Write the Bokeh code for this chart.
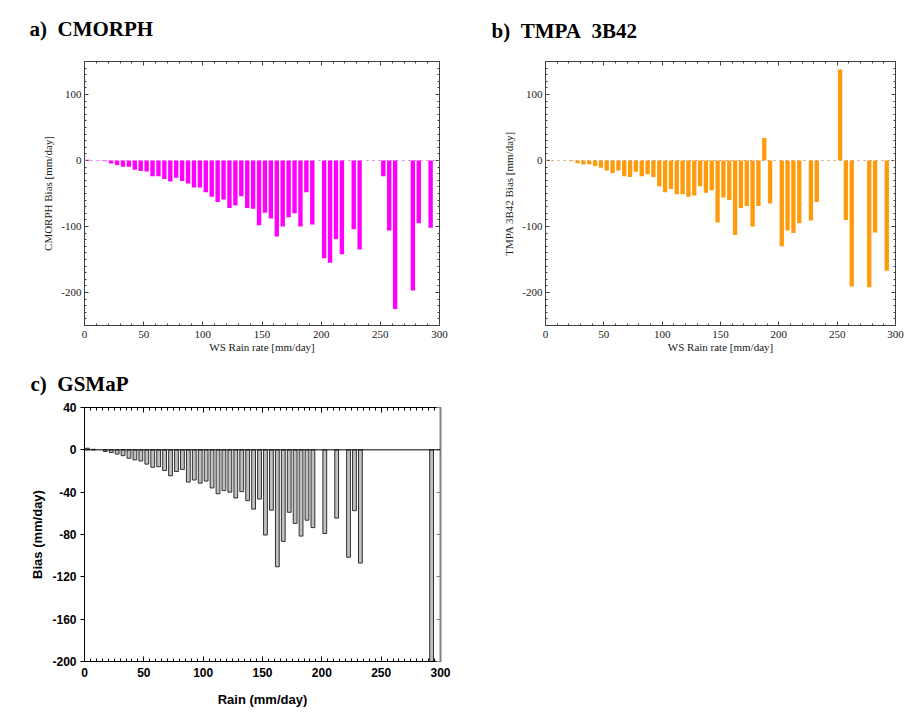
from bokeh.plotting import figure
from bokeh.layouts import column, row
from bokeh.models import (Range1d, LinearAxis, SingleIntervalTicker, Span, ColumnDataSource,
                          NumeralTickFormatter, CustomLabelingPolicy)
from bokeh.core.properties import value
from bokeh.embed import file_html
from bokeh.resources import INLINE

# ---------------- data ----------------
# bin centres (mm/day), 5 mm/day bins
rain_bins = [2.5 + 5 * i for i in range(59)]

cmorph_bias = [1, 0, -0.5, -1, -4.5, -7, -9.5, -9.5, -14, -16, -16.5, -24, -24, -28, -32, -26,
               -31, -35, -41, -41, -48, -55, -63, -59, -72, -68, -54, -72, -73, -98, -79, -88,
               -115, -100, -86, -80, -100, -48, -97, None, -148, -155, -119, -142, None, -104,
               -135, None, None, None, -24, -106, -225, None, None, -197, -95, None, -102]

tmpa_bias = [1, 0, 0, 0, -1, -4, -6, -5.5, -8.5, -11, -15, -19, -15, -24, -25, -17,
             -24, -21, -25, -39, -48, -43, -51, -51, -55, -53, -39, -49, -45, -94, -56, -60,
             -113, -72, -69, -100, -69, 34, -65, None, -130, -106, -110, -95, None, -91,
             -63, None, None, None, 138, -90, -191, None, None, -192, -109, None, -167]

gsmap_bias = [1.5, 0.5, None, -1.5, -2.5, -4, -5.5, -8, -9.5, -10.5, -13.5, -16.5, -16, -19.5, -24.5, -20.5,
              -18.5, -30.5, -28.5, -31.5, -29.5, -36, -41.5, -38.5, -40, -45.5, -39.5, -48, -56, -46.5, -80.5, -57,
              -110.5, -86.5, -59, -69.5, -81.5, -66.5, -73.5, None, -79, None, -64.5, None, -101.5, -57.5,
              -107, None, None, None, None, None, None, None, None, None, None, None, -240]

titles = ["a)\u00a0\u00a0CMORPH", "b)\u00a0\u00a0TMPA\u00a0\u00a03B42", "c)\u00a0\u00a0GSMaP"]
y_labels = ["CMORPH Bias [mm/day]", "TMPA 3B42 Bias [mm/day]", "Bias (mm/day)"]
x_labels = ["WS Rain rate [mm/day]", "WS Rain rate [mm/day]", "Rain (mm/day)"]

SERIF = "Liberation Serif"
SANS = "Liberation Sans"

NO_LABELS = "for (const i of indices) { indices.unset(i) }"


def clean(xs, ys):
    pts = [(x, y) for x, y in zip(xs, ys) if y is not None]
    return ColumnDataSource(dict(x=[p[0] for p in pts], top=[p[1] for p in pts]))


def title_strip(text, w, h, tx, ty):
    """A borderless strip whose frame is the whole canvas, holding a panel title."""
    t = figure(width=w, height=h, output_backend="svg", toolbar_location=None,
               x_range=Range1d(0, w), y_range=Range1d(0, h), title=None,
               min_border=0, x_axis_type=None, y_axis_type=None)
    t.grid.visible = False
    t.outline_line_color = None
    t.background_fill_color = "white"
    t.border_fill_color = "white"
    t.text(x=[tx], y=[ty], text=[text], text_font=value(SERIF), text_font_size=value("21px"),
           text_font_style="bold", text_color="black", text_align="left", text_baseline="middle")
    return t


def style_axis(ax, label, hide, font, fsize, lsize, bold, color, lw=1,
               tick_in=5, tick_out=0, mtick_in=3, std=4, lstd=0):
    ax.formatter = NumeralTickFormatter(format="0")
    ax.axis_line_color = color
    ax.axis_line_width = lw
    ax.major_tick_line_color = color
    ax.minor_tick_line_color = color
    ax.major_tick_in = tick_in
    ax.major_tick_out = tick_out
    ax.minor_tick_in = mtick_in
    ax.minor_tick_out = 0
    ax.major_label_text_font = font
    ax.major_label_text_font_style = "bold" if bold else "normal"
    ax.major_label_text_font_size = fsize
    ax.major_label_text_color = "black" if bold else "#202020"
    ax.major_label_standoff = 0 if hide else std
    if hide:
        ax.major_label_policy = CustomLabelingPolicy(code=NO_LABELS)
    ax.axis_label = label
    ax.axis_label_text_font = font
    ax.axis_label_text_font_size = lsize
    ax.axis_label_text_font_style = "bold" if bold else "normal"
    ax.axis_label_text_color = "black" if bold else "#202020"
    ax.axis_label_standoff = lstd


def base_fig(w, h, bl, br, bt, bb, yr):
    p = figure(width=w, height=h, output_backend="svg", toolbar_location=None,
               x_range=Range1d(0, 300), y_range=Range1d(*yr), title=None,
               min_border_left=bl, min_border_right=br, min_border_top=bt, min_border_bottom=bb,
               x_axis_type=None, y_axis_type=None)
    p.grid.visible = False
    p.outline_line_color = None
    p.background_fill_color = "white"
    p.border_fill_color = "white"
    return p


def serif_panel(ylabel, xlabel, bias, color, zcolor, w, h, bl, br, bt, bb):
    p = base_fig(w, h, bl, br, bt, bb, (-250, 150))
    p.add_layout(Span(location=0, dimension="width", line_color=zcolor,
                      line_dash="dotted", line_width=1))
    p.vbar(x="x", top="top", bottom=0, width=3.7, source=clean(rain_bins, bias),
           fill_color=color, line_color=None)
    kw = dict(font=SERIF, fsize="11px", lsize="11px", bold=False, color="#404040",
              tick_in=4, mtick_in=2)
    xt = lambda: SingleIntervalTicker(interval=50, num_minor_ticks=5)
    yt = lambda: SingleIntervalTicker(interval=100, num_minor_ticks=10)
    bx = LinearAxis(ticker=xt()); style_axis(bx, xlabel, False, std=5, lstd=0, **kw)
    tx_ = LinearAxis(ticker=xt()); style_axis(tx_, None, True, **kw)
    ly = LinearAxis(ticker=yt()); style_axis(ly, ylabel, False, std=3, lstd=4, **kw)
    ry = LinearAxis(ticker=yt()); style_axis(ry, None, True, **kw)
    p.add_layout(bx, "below")
    p.add_layout(tx_, "above")
    p.add_layout(ly, "left")
    p.add_layout(ry, "right")
    return p


# title strips (row 1 height 45, row 3 height 27)
ta = title_strip(titles[0], 468, 45, 29, 45 - 28)
tb = title_strip(titles[1], 450, 45, 23, 45 - 30)
tc = title_strip(titles[2], 468, 27, 30, 27 - 15)

# frame a: 84..439 x 59..327 ; frame b: 545..897 x 61..325
pa = serif_panel(y_labels[0], x_labels[0], cmorph_bias, "#ff00ff", "#e070e0",
                 468, 323, 84, 29, 14, 41)
pb = serif_panel(y_labels[1], x_labels[1], tmpa_bias, "#ff9a0a", "#c0a070",
                 450, 323, 77, 21, 16, 43)

# ---------------- panel c ----------------  frame 84..440 x 406..661
pc = base_fig(468, 318, 84, 28, 11, 52, (-200, 40))
pc.vbar(x="x", top="top", bottom=0, width=3.2, source=clean(rain_bins, gsmap_bias),
        fill_color="#c0c0c0", line_color="#303030", line_width=1)
pc.add_layout(Span(location=0, dimension="width", line_color="black", line_width=1))

ckw = dict(font=SANS, fsize="12px", lsize="13px", bold=True)
cxt = lambda: SingleIntervalTicker(interval=50, num_minor_ticks=10)
cyt = lambda: SingleIntervalTicker(interval=40, num_minor_ticks=1)
cbx = LinearAxis(ticker=cxt()); style_axis(cbx, x_labels[2], False, color="black", std=6, lstd=12, **ckw)
ctx = LinearAxis(ticker=cxt()); style_axis(ctx, None, True, color="black", **ckw)
cly = LinearAxis(ticker=cyt()); style_axis(cly, y_labels[2], False, color="black",
                                           tick_in=0, tick_out=4, std=4, lstd=4, **ckw)
cly.minor_tick_line_color = None
cry = LinearAxis(ticker=cyt()); style_axis(cry, None, True, color="#808080", lw=2, tick_in=4, **ckw)
cry.minor_tick_line_color = None
pc.add_layout(cbx, "below")
pc.add_layout(ctx, "above")
pc.add_layout(cly, "left")
pc.add_layout(cry, "right")

layout = column(row(ta, tb), row(pa, pb), row(tc), row(pc))
open("out.html", "w").write(file_html(layout, INLINE))
